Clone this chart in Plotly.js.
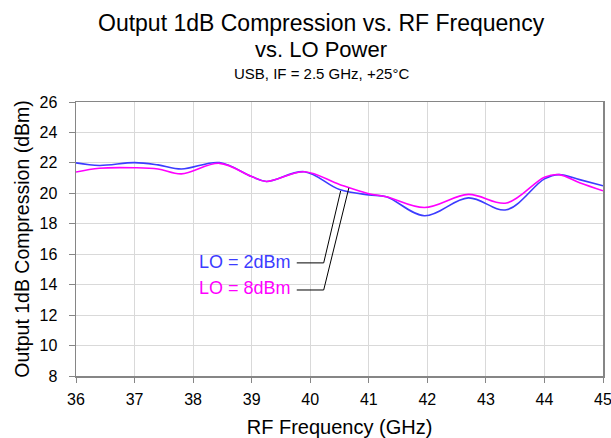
<!DOCTYPE html>
<html>
<head>
<meta charset="utf-8">
<script src="https://cdn.plot.ly/plotly-3.0.1.min.js"></script>
<style>html,body{margin:0;padding:0;background:#fff;}#chart{width:611px;height:438px;}</style>
</head>
<body>
<div id="chart"></div>
<script>
const freq = [36, 36.4, 37, 37.4, 37.8, 38.45, 39.0, 39.25, 39.9, 40.5, 41, 41.3, 41.95, 42.7, 43.35, 44, 44.25, 44.6, 45];
const lo2dBm = [22.0, 21.83, 22.02, 21.87, 21.6, 22.02, 21.1, 20.78, 21.42, 20.25, 19.9, 19.78, 18.53, 19.7, 18.92, 20.95, 21.23, 20.9, 20.5];
const lo8dBm = [21.4, 21.65, 21.68, 21.6, 21.28, 21.97, 21.1, 20.78, 21.42, 20.58, 19.97, 19.78, 19.07, 19.93, 19.36, 21.06, 21.23, 20.7, 20.17];
const xTicks = [36, 37, 38, 39, 40, 41, 42, 43, 44, 45];
const yTicks = [8, 10, 12, 14, 16, 18, 20, 22, 24, 26];
const seriesNames = ["LO = 2dBm", "LO = 8dBm"];

const font = "Liberation Sans, Arial, sans-serif";
const traces = [
  {x: freq, y: lo2dBm, name: seriesNames[0], mode: "lines", line: {color: "#3c3cff", width: 1.6, shape: "spline", smoothing: 1}},
  {x: freq, y: lo8dBm, name: seriesNames[1], mode: "lines", line: {color: "#ff00ff", width: 1.6, shape: "spline", smoothing: 1}}
];
const layout = {
  width: 611, height: 438,
  margin: {l: 75.5, r: 8, t: 102, b: 62},
  paper_bgcolor: "#fff", plot_bgcolor: "#fff",
  showlegend: false,
  font: {family: font, color: "#000"},
  xaxis: {
    range: [36, 45], tickvals: xTicks, ticktext: xTicks.map(String),
    showgrid: true, gridcolor: "#d9d9d9", gridwidth: 1,
    showline: true, linecolor: "#868686", linewidth: 1.5, mirror: true,
    ticks: "outside", ticklen: 5, tickcolor: "#868686",
    tickfont: {size: 16, family: font}, zeroline: false,
    ticklabeloverflow: "allow", ticklabelstandoff: 3,
    title: {text: "RF Frequency (GHz)", font: {size: 20, family: font}, standoff: 15}
  },
  yaxis: {
    range: [8, 26], tickvals: yTicks, ticktext: yTicks.map(String),
    showgrid: true, gridcolor: "#d9d9d9", gridwidth: 1,
    showline: true, linecolor: "#868686", linewidth: 1.5, mirror: true,
    ticks: "outside", ticklen: 6, tickcolor: "#868686",
    tickfont: {size: 16, family: font}, zeroline: false,
    ticklabelstandoff: 8,
    title: {text: "Output 1dB Compression (dBm)", font: {size: 19.5, family: font}, standoff: 4}
  },
  annotations: [
    {xref: "paper", yref: "paper", x: 0.465, y: 1.287, yanchor: "middle", xanchor: "center", showarrow: false,
     text: "Output 1dB Compression vs. RF Frequency", font: {size: 23, family: font}},
    {xref: "paper", yref: "paper", x: 0.465, y: 1.191, yanchor: "middle", xanchor: "center", showarrow: false,
     text: "vs. LO Power", font: {size: 22, family: font}},
    {xref: "paper", yref: "paper", x: 0.465, y: 1.105, yanchor: "middle", xanchor: "center", showarrow: false,
     text: "USB, IF = 2.5 GHz, +25°C", font: {size: 15, family: font}},
    {xref: "x", yref: "y", x: 39.7, y: 15.5, xanchor: "right", yanchor: "middle", showarrow: false,
     text: seriesNames[0], font: {size: 18, family: font, color: "#3c3cff"}},
    {xref: "x", yref: "y", x: 39.7, y: 13.75, xanchor: "right", yanchor: "middle", showarrow: false,
     text: seriesNames[1], font: {size: 18, family: font, color: "#ff00ff"}}
  ],
  shapes: [
    {type: "path", xref: "x", yref: "y", path: "M 39.77 15.43 L 40.23 15.43 L 40.52 20.16", line: {color: "#000", width: 1}},
    {type: "path", xref: "x", yref: "y", path: "M 39.77 13.65 L 40.23 13.65 L 40.66 20.36", line: {color: "#000", width: 1}}
  ]
};
Plotly.newPlot("chart", traces, layout, {displayModeBar: false, staticPlot: true});
</script>
</body>
</html>
